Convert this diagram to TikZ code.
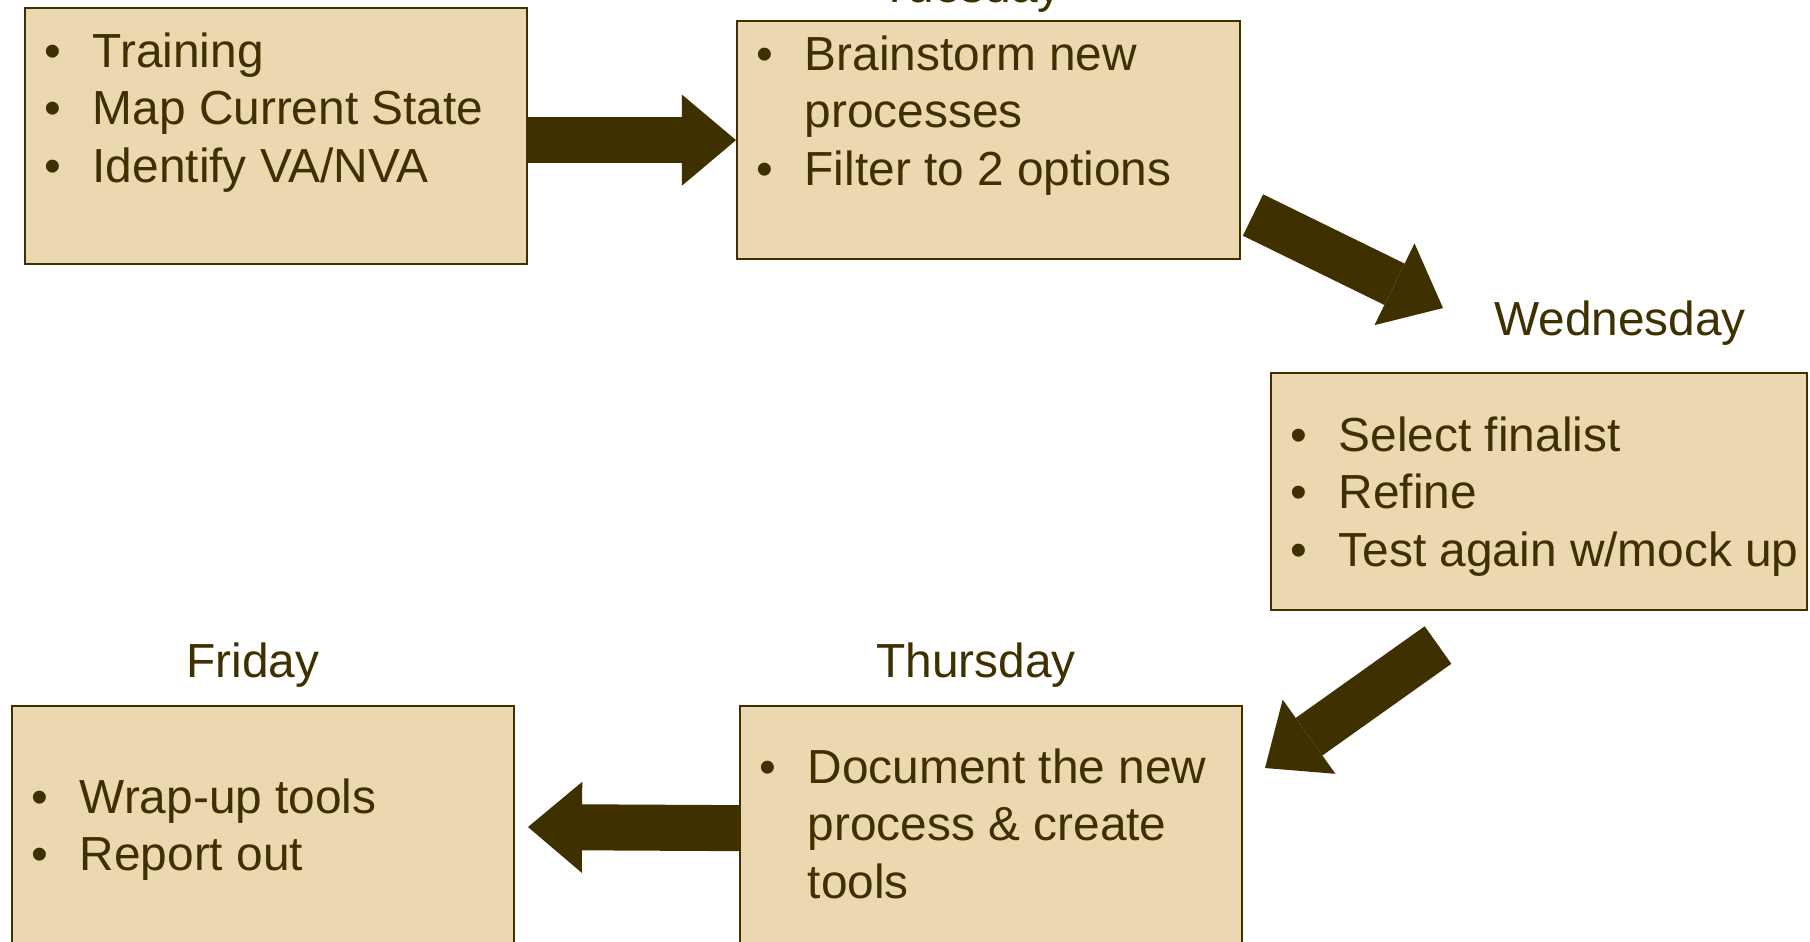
\documentclass[tikz,border=0pt]{standalone}
\usepackage{fontspec}
\setmainfont{Liberation Sans}
\usepackage{xcolor}
\usepackage{tikz}
\usetikzlibrary{arrows.meta}
\definecolor{kaiBrown}{HTML}{3F3000}
\definecolor{kaiSand}{HTML}{EBD8B0}
\tikzset{
  kz/.style={x=0.01cm, y=-0.01cm, every node/.style={font=\fontsize{13.6pt}{0.575cm}\selectfont, text=kaiBrown, inner sep=0pt}},
  day/.style={draw=kaiBrown, line width=0.6pt, fill=kaiSand, anchor=north west},
  pts/.style={anchor=base west},
  dname/.style={anchor=base},
  blk/.style={draw=kaiBrown, line width=4.6mm, -{Triangle[length=5.4mm, width=9.1mm, line width=0pt]}}
}
\newcommand{\bul}{\makebox[4.84mm][l]{\textbullet}}
\newcommand{\plist}[1]{\begin{tabular}[t]{@{}l@{}}#1\end{tabular}}

\begin{document}
\begin{tikzpicture}[kz]
\useasboundingbox (0,0) rectangle (1810,941);
\clip (0,0) rectangle (1810,941);
% the five days
\node[day, minimum width=5.02cm, minimum height=2.56cm] (mon) at (24,7) {};
\node[day, minimum width=5.03cm, minimum height=2.38cm] (tue) at (736,20) {};
\node[day, minimum width=5.36cm, minimum height=2.37cm] (wed) at (1270,372) {};
\node[day, minimum width=5.02cm, minimum height=2.44cm] (thu) at (739,705) {};
\node[day, minimum width=5.02cm, minimum height=2.44cm] (fri) at (11,705) {};
\node[pts] (mon-t) at (43.6,67) {\plist{\bul Training\\ \bul Map Current State\\ \bul Identify VA/NVA}};
\node[pts] (tue-t) at (755.6,70) {\plist{\bul Brainstorm new\\ \hspace{4.84mm}processes\\ \bul Filter to 2 options}};
\node[pts] (wed-t) at (1289.6,451) {\plist{\bul Select finalist\\ \bul Refine\\ \bul Test again w/mock up}};
\node[pts] (thu-t) at (758.6,783) {\plist{\bul Document the new\\ \hspace{4.84mm}process \& create\\ \hspace{4.84mm}tools}};
\node[pts] (fri-t) at (30.6,813) {\plist{\bul Wrap-up tools\\ \bul Report out}};
\node[dname] (tue-l) at (971,2) {Tuesday};
\node[dname] (wed-l) at (1620,335) {Wednesday};
\node[dname] (thu-l) at (976,677) {Thursday};
\node[dname] (fri-l) at (253,677) {Friday};
% block arrows
\coordinate (a2s) at (1253,215); \coordinate (a2e) at (1443,308);
\coordinate (a3s) at (1438,645); \coordinate (a3e) at (1265,768);
\coordinate (a4e) at (528,827);
\draw[blk] (mon.east |- tue.west) -- (tue.west);
\draw[blk] (a2s) -- (a2e);
\draw[blk] (a3s) -- (a3e);
\draw[blk] (thu.west) -- (a4e);
\end{tikzpicture}
\end{document}
